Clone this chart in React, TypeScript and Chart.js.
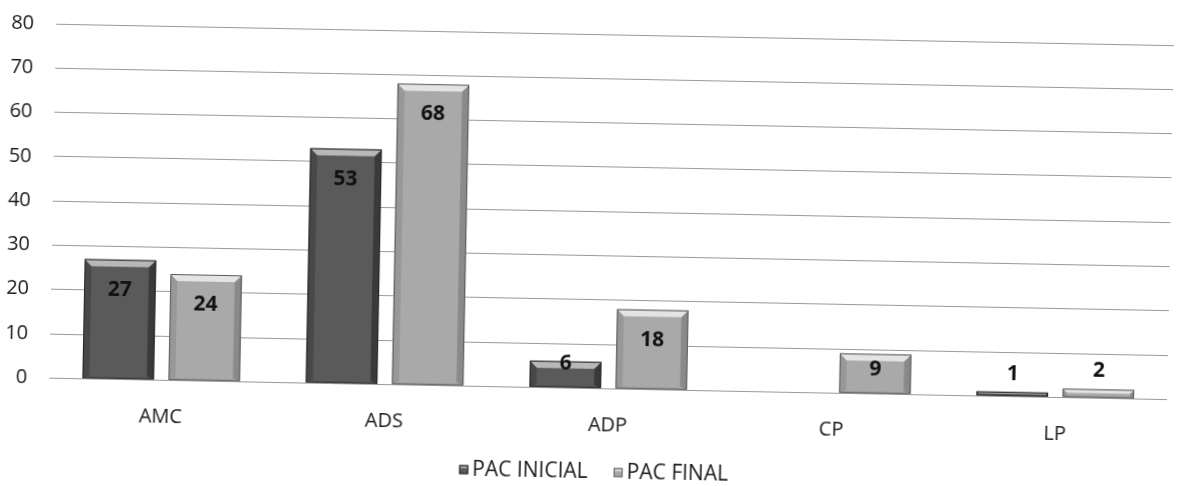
import React, { useEffect, useRef } from "react";
import { Chart, registerables } from "chart.js";

Chart.register(...registerables);

const categories = ["AMC", "ADS", "ADP", "CP", "LP"];
const pacInicial = [27, 53, 6, 0, 1];
const pacFinal = [24, 68, 18, 9, 2];
const seriesNames = ["PAC INICIAL", "PAC FINAL"];
const yMin = 0;
const yMax = 80;
const yStep = 10;

const palette = [
  { main: "#5a5a5a", top: "#b8b8b8", left: "#484848", right: "#3a3a3a", edge: "#262626" },
  { main: "#a9a9a9", top: "#e4e4e4", left: "#989898", right: "#8a8a8a", edge: "#5a5a5a" },
];

const FONT = "'Open Sans', 'DejaVu Sans', sans-serif";

const bevelPlugin = {
  id: "bevel",
  afterDatasetsDraw(chart: any) {
    const ctx = chart.ctx;
    chart.data.datasets.forEach((ds: any, di: number) => {
      const meta = chart.getDatasetMeta(di);
      const pal = palette[di];
      meta.data.forEach((bar: any, i: number) => {
        const v = ds.data[i];
        if (!v) return;
        const { x, y, base, width } = bar.getProps(["x", "y", "base", "width"], true);
        const x0 = x - width / 2;
        const x1 = x + width / 2;
        const top = Math.min(y, base);
        const bot = Math.max(y, base);
        const h = bot - top;
        const b = Math.min(7, h / 2);
        ctx.save();
        ctx.fillStyle = pal.left;
        ctx.beginPath();
        ctx.moveTo(x0, top);
        ctx.lineTo(x0 + b, top + b);
        ctx.lineTo(x0 + b, bot - b * 0.4);
        ctx.lineTo(x0, bot);
        ctx.closePath();
        ctx.fill();
        ctx.fillStyle = pal.right;
        ctx.beginPath();
        ctx.moveTo(x1, top);
        ctx.lineTo(x1 - b, top + b);
        ctx.lineTo(x1 - b, bot - b * 0.4);
        ctx.lineTo(x1, bot);
        ctx.closePath();
        ctx.fill();
        ctx.fillStyle = pal.top;
        ctx.beginPath();
        ctx.moveTo(x0, top);
        ctx.lineTo(x1, top);
        ctx.lineTo(x1 - b, top + b);
        ctx.lineTo(x0 + b, top + b);
        ctx.closePath();
        ctx.fill();
        ctx.strokeStyle = pal.edge;
        ctx.lineWidth = 1;
        ctx.strokeRect(x0 + 0.5, top + 0.5, width - 1, h - 1);
        ctx.restore();
      });
    });
    ctx.save();
    ctx.font = `bold 21px ${FONT}`;
    ctx.fillStyle = "#111";
    ctx.textAlign = "center";
    ctx.textBaseline = "middle";
    chart.data.datasets.forEach((ds: any, di: number) => {
      const meta = chart.getDatasetMeta(di);
      meta.data.forEach((bar: any, i: number) => {
        const v = ds.data[i];
        if (!v) return;
        const { x, y, base } = bar.getProps(["x", "y", "base"], true);
        const h = base - y;
        let off;
        if (h >= 60) off = 30;
        else if (h >= 35) off = 16;
        else if (h >= 20) off = 2;
        else off = -18;
        ctx.fillText(String(v), x, y + off);
      });
    });
    ctx.restore();
  },
};

const legendPlugin = {
  id: "customLegend",
  afterDraw(chart: any) {
    const ctx = chart.ctx;
    const area = chart.chartArea;
    ctx.save();
    ctx.font = `21px ${FONT}`;
    ctx.textBaseline = "middle";
    ctx.textAlign = "left";
    const box = 9;
    const gapBox = 4;
    const gapItem = 26;
    const widths = seriesNames.map((n) => ctx.measureText(n).width);
    const total = widths.reduce((a, w) => a + box + gapBox + w, 0) + gapItem * (seriesNames.length - 1);
    let x = (area.left + area.right) / 2 - 13 - total / 2;
    const yc = chart.height - 14;
    seriesNames.forEach((n, i) => {
      const pal = palette[i];
      ctx.fillStyle = pal.main;
      ctx.fillRect(x, yc - box / 2, box, box);
      ctx.fillStyle = pal.top;
      ctx.fillRect(x + 1, yc - box / 2 + 1, box - 2, 2);
      ctx.strokeStyle = pal.edge;
      ctx.lineWidth = 1;
      ctx.strokeRect(x + 0.5, yc - box / 2 + 0.5, box - 1, box - 1);
      x += box + gapBox;
      ctx.fillStyle = "#1a1a1a";
      ctx.fillText(n, x, yc);
      x += widths[i] + gapItem;
    });
    ctx.restore();
  },
};

export default function App() {
  const ref = useRef<HTMLCanvasElement | null>(null);
  useEffect(() => {
    if (!ref.current) return;
    const chart = new Chart(ref.current, {
      type: "bar",
      data: {
        labels: categories,
        datasets: [
          {
            label: seriesNames[0],
            data: pacInicial,
            backgroundColor: palette[0].main,
            borderWidth: 0,
            categoryPercentage: 0.77,
            barPercentage: 0.83,
          },
          {
            label: seriesNames[1],
            data: pacFinal,
            backgroundColor: palette[1].main,
            borderWidth: 0,
            categoryPercentage: 0.77,
            barPercentage: 0.83,
          },
        ],
      },
      options: {
        responsive: false,
        animation: false,
        devicePixelRatio: 1,
        layout: { padding: { left: 0, right: 9, top: 32, bottom: 0 } },
        plugins: {
          legend: { display: false },
          tooltip: { enabled: false },
          title: { display: false },
        },
        scales: {
          x: {
            grid: { display: false, drawTicks: false },
            border: { display: false },
            ticks: {
              padding: 25,
              color: "#1a1a1a",
              font: { family: FONT, size: 20 },
            },
            afterFit: (s: any) => {
              s.height = 97.7;
            },
          },
          y: {
            min: yMin,
            max: yMax,
            grid: { color: "#9a9a9a", lineWidth: 1, drawTicks: false },
            border: { display: false },
            ticks: {
              stepSize: yStep,
              padding: 22,
              color: "#1a1a1a",
              font: { family: FONT, size: 20 },
            },
            afterFit: (s: any) => {
              s.width = 52;
            },
          },
        },
      },
      plugins: [bevelPlugin, legendPlugin],
    });
    return () => chart.destroy();
  }, []);
  return (
    <div
      style={{
        position: "fixed",
        left: 0,
        top: 0,
        width: 1179,
        height: 486,
        overflow: "hidden",
        background: "#fff",
      }}
    >
      <canvas
        ref={ref}
        width={1179}
        height={486}
        style={{
          width: 1179,
          height: 486,
          display: "block",
          transform: "rotate(1.1deg)",
          transformOrigin: "50% 50%",
        }}
      />
    </div>
  );
}
